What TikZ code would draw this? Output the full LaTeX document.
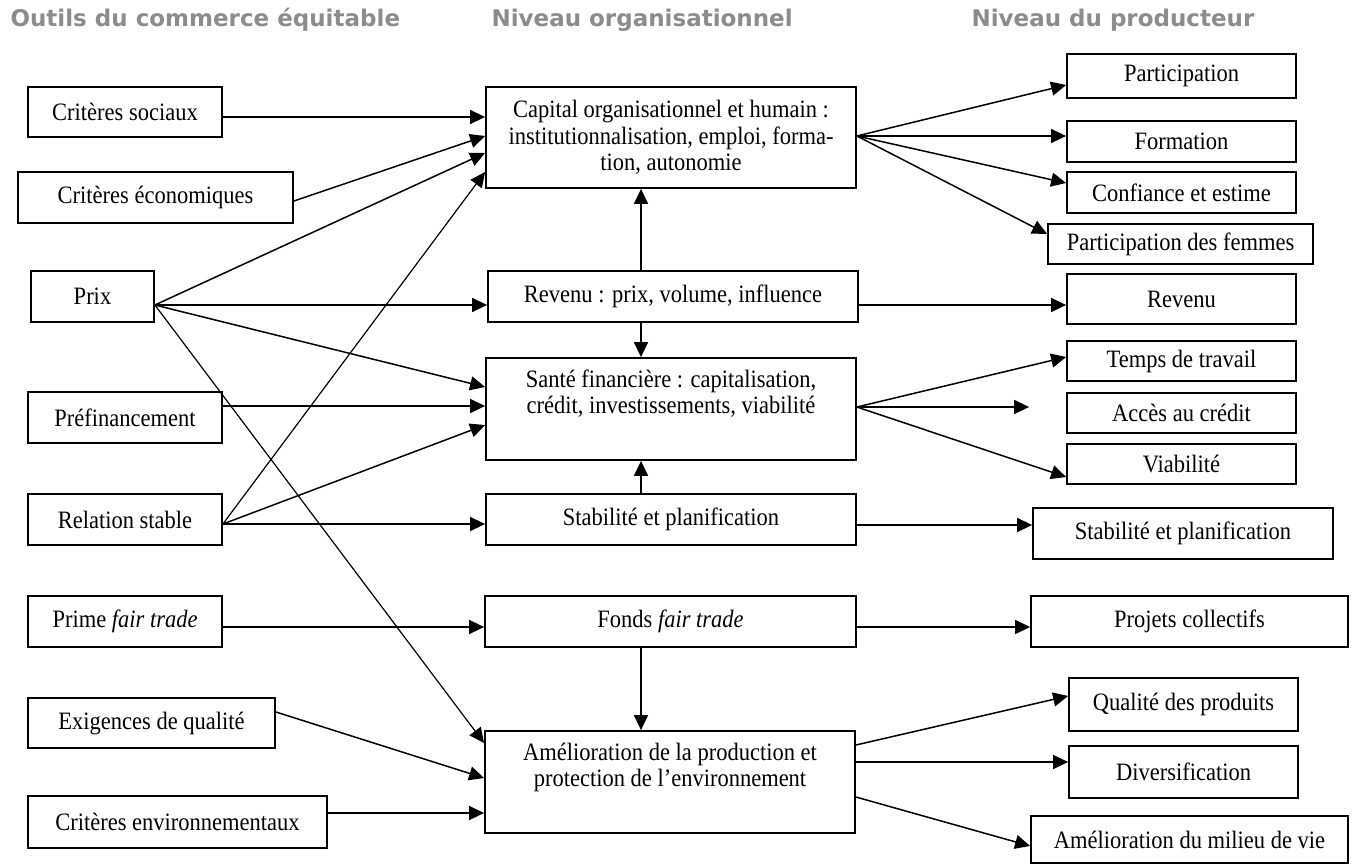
\documentclass[tikz,border=0pt]{standalone}
\usepackage{fontspec}
\setmainfont{Liberation Serif}[FakeStretch=0.9]
\newfontfamily\headfont{DejaVu Sans}
\usepackage{tikz}
\usetikzlibrary{arrows.meta,calc}
\definecolor{headgray}{RGB}{140,140,140}

\begin{document}
\begin{tikzpicture}[x=1pt,y=-1pt,
    >={Triangle[length=15pt,width=14pt]},
    box/.style={draw,line width=1.8pt,inner sep=0pt,align=center,
      font=\fontsize{25}{26.5}\selectfont},
    heading/.style={anchor=base west,text=headgray,
      font=\headfont\bfseries\fontsize{23}{26}\selectfont},
    link/.style={->,line width=1.5pt}]
  \useasboundingbox (0,0) rectangle (1354,865);

  \node[heading] (houtils) at (7,26) {Outils du commerce équitable};
  \node[heading] (horga)   at (488,26) {Niveau organisationnel};
  \node[heading] (hprod)   at (968,26) {Niveau du producteur};

  \node[box,minimum width=194pt,minimum height=50pt] (sociaux) at (125,112) {Critères sociaux};
  \node[box,minimum width=275pt,minimum height=51pt] (economiques) at (155.5,197.5) {Critères économiques};
  \node[box,minimum width=123pt,minimum height=51pt] (prix) at (92.5,296.5) {Prix};
  \node[box,minimum width=194pt,minimum height=51pt] (prefinancement) at (125,417.5) {Préfinancement};
  \node[box,minimum width=194pt,minimum height=51pt] (relation) at (125,519.5) {Relation stable};
  \node[box,minimum width=194pt,minimum height=51pt] (prime) at (125,621.5) {Prime \textit{fair trade}};
  \node[box,minimum width=247pt,minimum height=50pt] (exigences) at (151.5,723) {Exigences de qualité};
  \node[box,minimum width=299pt,minimum height=52pt] (environnement) at (177.5,822) {Critères environnementaux};

  \node[box,minimum width=370pt,minimum height=101pt] (capital) at (671,137.5)
    {Capital organisationnel et humain :\\institutionnalisation, emploi, forma-\\tion, autonomie};
  \node[box,minimum width=370pt,minimum height=51pt] (revenu) at (673,296.5) {Revenu : prix, volume, influence};
  \node[box,minimum width=370pt,minimum height=102pt] (sante) at (671,409)
    {Santé financière : capitalisation,\\crédit, investissements, viabilité\\ \strut};
  \node[box,minimum width=370pt,minimum height=51pt] (stabilite) at (671,519.5) {Stabilité et planification};
  \node[box,minimum width=371pt,minimum height=51pt] (fonds) at (670.5,621.5) {Fonds \textit{fair trade}};
  \node[box,minimum width=370pt,minimum height=102pt] (amelioration) at (670,782)
    {Amélioration de la production et\\protection de l’environnement\\ \strut};

  \node[box,minimum width=229pt,minimum height=44pt] (participation) at (1181.5,76) {Participation};
  \node[box,minimum width=229pt,minimum height=41pt] (formation) at (1181.5,141.5) {Formation};
  \node[box,minimum width=229pt,minimum height=41pt] (confiance) at (1181.5,192.5) {Confiance et estime};
  \node[box,minimum width=265pt,minimum height=40pt] (femmes) at (1180.5,244) {Participation des femmes};
  \node[box,minimum width=229pt,minimum height=50pt] (revenuprod) at (1181.5,299) {Revenu};
  \node[box,minimum width=229pt,minimum height=40pt] (temps) at (1181.5,361) {Temps de travail};
  \node[box,minimum width=229pt,minimum height=40pt] (acces) at (1181.5,413) {Accès au crédit};
  \node[box,minimum width=229pt,minimum height=40pt] (viabilite) at (1181.5,464) {Viabilité};
  \node[box,minimum width=300pt,minimum height=51pt] (stabiliteprod) at (1183,533.5) {Stabilité et planification};
  \node[box,minimum width=317pt,minimum height=51pt] (projets) at (1189.5,621.5) {Projets collectifs};
  \node[box,minimum width=229pt,minimum height=53pt] (qualite) at (1183.5,704.5) {Qualité des produits};
  \node[box,minimum width=229pt,minimum height=52pt] (diversification) at (1183.5,772) {Diversification};
  \node[box,minimum width=317pt,minimum height=47pt] (milieu) at (1189.5,839.5) {Amélioration du milieu de vie};

  \coordinate (prixo) at ([yshift=-8.5pt]prix.east);
  \coordinate (relationo) at ([yshift=-4.5pt]relation.east);
  \coordinate (capitalo) at ([yshift=1.5pt]capital.east);
  \coordinate (santeo) at ([yshift=2pt]sante.east);
  \coordinate (acceso) at ([xshift=-37pt]santeo -| acces.west);

  \path[link]
    ([yshift=-5pt]sociaux.east)         edge ([yshift=-5pt]sociaux.east -| capital.west)
    ([yshift=-3.5pt]economiques.east)   edge ([yshift=1.5pt]capital.west)
    (prixo)                             edge ([yshift=-15.5pt]capital.west)
    (prixo)                             edge (prixo -| revenu.west)
    (prixo)                             edge ([yshift=22pt]sante.west)
    (prixo)                             edge[line width=1.2pt] ([yshift=39pt]amelioration.west)
    ([yshift=11.5pt]prefinancement.east) edge ([yshift=11.5pt]prefinancement.east -| sante.west)
    (relationo)                         edge[line width=1.2pt] ([yshift=-34.5pt]capital.west)
    (relationo)                         edge ([yshift=-16pt]sante.west)
    (relationo)                         edge (relationo -| stabilite.west)
    ([yshift=-5.5pt]prime.east)         edge ([yshift=-5.5pt]prime.east -| fonds.west)
    ([yshift=11pt]exigences.east)       edge ([yshift=4pt]amelioration.west)
    ([yshift=9pt]environnement.east)    edge ([yshift=9pt]environnement.east -| amelioration.west);

  \path[link]
    ([xshift=-32pt]revenu.north)        edge ([xshift=-32pt]revenu.north |- capital.south)
    ([xshift=-32pt]revenu.south)        edge ([xshift=-32pt]revenu.south |- sante.north)
    ([xshift=-30pt]stabilite.north)     edge ([xshift=-30pt]stabilite.north |- sante.south)
    ([xshift=-29.5pt]fonds.south)       edge ([xshift=-29.5pt]fonds.south |- amelioration.north);

  \path[link]
    (capitalo)                          edge ([yshift=-9pt]participation.west)
    (capitalo)                          edge (capitalo -| formation.west)
    (capitalo)                          edge ([yshift=9.5pt]confiance.west)
    (capitalo)                          edge ([yshift=10pt]femmes.west)
    ([yshift=-8.5pt]revenu.east)        edge ([yshift=-8.5pt]revenu.east -| revenuprod.west)
    (santeo)                            edge ([yshift=4pt]temps.west)
    (santeo)                            edge (acceso)
    (santeo)                            edge ([yshift=-13pt]viabilite.west)
    ([yshift=-5.5pt]stabilite.east)     edge ([yshift=-5.5pt]stabilite.east -| stabiliteprod.west)
    ([yshift=-5.5pt]fonds.east)         edge ([yshift=-5.5pt]fonds.east -| projets.west)
    ([yshift=37pt]amelioration.east)    edge ([yshift=8.5pt]qualite.west)
    ([yshift=20pt]amelioration.east)    edge ([yshift=20pt]amelioration.east -| diversification.west)
    ([yshift=-15pt]amelioration.east)   edge ([yshift=-6.5pt]milieu.west);
\end{tikzpicture}
\end{document}
